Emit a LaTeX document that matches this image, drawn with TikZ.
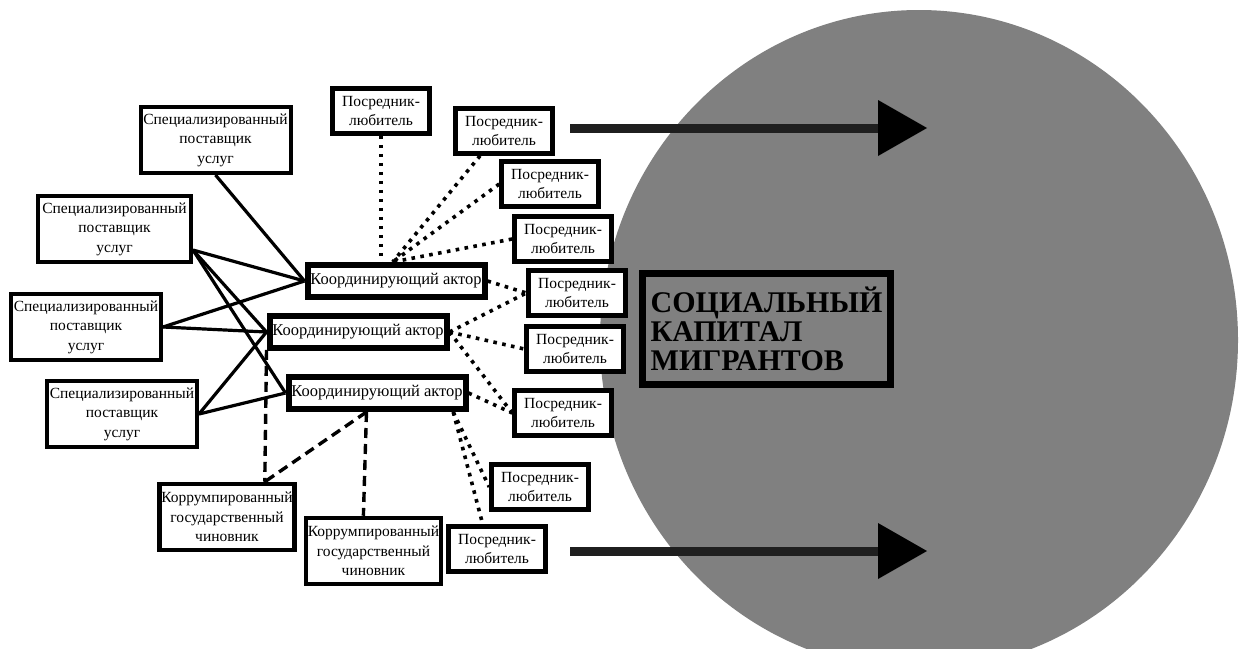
\documentclass[tikz,border=0pt]{standalone}
\usepackage{fontspec}
\setmainfont{Liberation Serif}
\usetikzlibrary{arrows.meta}

\begin{document}
\begin{tikzpicture}[x=1pt, y=-1pt,
    box/.style={draw, fill=white, align=center, inner sep=2pt, font=\fontsize{15.5}{19.5}\selectfont},
    supplier/.style={box, line width=4pt, minimum width=150pt, minimum height=66pt},
    official/.style={box, line width=4.5pt, minimum width=135pt, minimum height=66pt},
    broker/.style={box, line width=4.5pt, minimum width=97pt, minimum height=45pt},
    actor/.style={box, line width=6pt, minimum width=177pt, minimum height=32pt, font=\fontsize{16.5}{19}\selectfont},
    capital/.style={draw, line width=7pt, align=left, minimum width=248pt, minimum height=111pt, font=\fontsize{30}{29}\selectfont\bfseries},
    tie/.style={line width=3.2pt},
    amateur/.style={line width=3.6pt, dash pattern=on 3.6pt off 5.4pt},
    corrupt/.style={line width=3.4pt, dash pattern=on 10pt off 6pt},
    flow/.style={line width=9pt, black!88, -{Triangle[length=49pt, width=56pt, line width=0pt, color=black]}}]
\useasboundingbox (0,0) rectangle (1244,648);
\fill[gray] (919,340) ellipse [x radius=319pt, y radius=330pt];

\node[supplier] (S1) at (215.5,140) {Специализированный\\поставщик\\услуг};
\node[supplier, minimum width=153pt] (S2) at (114.5,229) {Специализированный\\поставщик\\услуг};
\node[supplier] (S3) at (86,327) {Специализированный\\поставщик\\услуг};
\node[supplier] (S4) at (122,414) {Специализированный\\поставщик\\услуг};

\node[actor] (A1) at (396,281) {Координирующий актор};
\node[actor] (A2) at (358,332) {Координирующий актор};
\node[actor] (A3) at (377,393) {Координирующий актор};

\node[official] (C1) at (227,517) {Коррумпированный\\государственный\\чиновник};
\node[official] (C2) at (373.5,551) {Коррумпированный\\государственный\\чиновник};

\node[broker] (P1) at (381,111) {Посредник-\\любитель};
\node[broker] (P2) at (504,131) {Посредник-\\любитель};
\node[broker] (P3) at (550,184) {Посредник-\\любитель};
\node[broker] (P4) at (563,239) {Посредник-\\любитель};
\node[broker] (P5) at (577,293) {Посредник-\\любитель};
\node[broker] (P6) at (575,349) {Посредник-\\любитель};
\node[broker] (P7) at (563,413) {Посредник-\\любитель};
\node[broker] (P8) at (540,487) {Посредник-\\любитель};
\node[broker] (P9) at (497,549) {Посредник-\\любитель};

\node[capital] (K) at (766.5,329) {СОЦИАЛЬНЫЙ\\КАПИТАЛ\\МИГРАНТОВ};

\coordinate (in1) at (570,128);
\coordinate (out1) at (927,128);
\coordinate (in2) at (570,551);
\coordinate (out2) at (927,551);
\draw[flow] (in1) -- (out1);
\draw[flow] (in2) -- (out2);

\draw[tie] (S1.south) -- (A1.west);
\draw[tie] (S2.-15) -- (A1.west);
\draw[tie] (S2.-15) -- (A2.west);
\draw[tie] (S2.-15) -- (A3.west);
\draw[tie] (S3.east) -- (A1.west);
\draw[tie] (S3.east) -- (A2.west);
\draw[tie] (S4.east) -- (A2.west);
\draw[tie] (S4.east) -- (A3.west);

\draw[amateur] (P1.south) -- (P1.south |- A1.north);
\draw[amateur] (P2.-134) -- (A1.100);
\draw[amateur] (P3.west) -- (A1.100);
\draw[amateur] (P4.west) -- (A1.100);
\draw[amateur] (A1.east) -- (P5.west);
\draw[amateur] (A2.east) -- (P5.west);
\draw[amateur] (A2.east) -- (P6.west);
\draw[amateur] (A2.east) -- (P7.west);
\draw[amateur] (A3.east) -- (P7.west);
\draw[amateur] (A3.-14) -- (P8.west);
\draw[amateur] (A3.-14) -- (P9.120);

\draw[corrupt] (A2.-169) -- (C1.43);
\draw[corrupt] (A3.-119) -- (C1.43);
\draw[corrupt] (A3.-119) -- (C2.106);
\end{tikzpicture}
\end{document}
